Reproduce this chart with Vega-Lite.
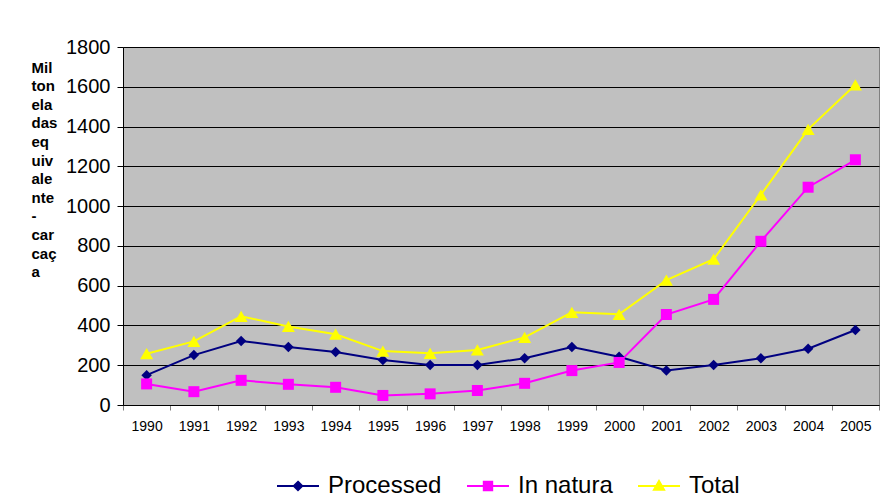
{
  "$schema": "https://vega.github.io/schema/vega-lite/v6.json",
  "width": 756,
  "height": 358,
  "autosize": {"type": "none"},
  "padding": {"left": 123, "top": 47, "right": 2, "bottom": 97},
  "background": "white",
  "config": {
    "font": "Liberation Sans",
    "view": {"fill": "#C0C0C0", "stroke": "#808080", "strokeWidth": 1}
  },
  "data": {
    "values": [
      {"year": "1990", "series": "Processed", "value": 150},
      {"year": "1991", "series": "Processed", "value": 251},
      {"year": "1992", "series": "Processed", "value": 322},
      {"year": "1993", "series": "Processed", "value": 292},
      {"year": "1994", "series": "Processed", "value": 266},
      {"year": "1995", "series": "Processed", "value": 226},
      {"year": "1996", "series": "Processed", "value": 201},
      {"year": "1997", "series": "Processed", "value": 201},
      {"year": "1998", "series": "Processed", "value": 235},
      {"year": "1999", "series": "Processed", "value": 292},
      {"year": "2000", "series": "Processed", "value": 243},
      {"year": "2001", "series": "Processed", "value": 174},
      {"year": "2002", "series": "Processed", "value": 201},
      {"year": "2003", "series": "Processed", "value": 235},
      {"year": "2004", "series": "Processed", "value": 283},
      {"year": "2005", "series": "Processed", "value": 377},
      {"year": "1990", "series": "In natura", "value": 106},
      {"year": "1991", "series": "In natura", "value": 67},
      {"year": "1992", "series": "In natura", "value": 124},
      {"year": "1993", "series": "In natura", "value": 104},
      {"year": "1994", "series": "In natura", "value": 89},
      {"year": "1995", "series": "In natura", "value": 48},
      {"year": "1996", "series": "In natura", "value": 56},
      {"year": "1997", "series": "In natura", "value": 73},
      {"year": "1998", "series": "In natura", "value": 109},
      {"year": "1999", "series": "In natura", "value": 173},
      {"year": "2000", "series": "In natura", "value": 214},
      {"year": "2001", "series": "In natura", "value": 455},
      {"year": "2002", "series": "In natura", "value": 531},
      {"year": "2003", "series": "In natura", "value": 823},
      {"year": "2004", "series": "In natura", "value": 1095},
      {"year": "2005", "series": "In natura", "value": 1233},
      {"year": "1990", "series": "Total", "value": 258},
      {"year": "1991", "series": "Total", "value": 320},
      {"year": "1992", "series": "Total", "value": 446},
      {"year": "1993", "series": "Total", "value": 395},
      {"year": "1994", "series": "Total", "value": 356},
      {"year": "1995", "series": "Total", "value": 271},
      {"year": "1996", "series": "Total", "value": 260},
      {"year": "1997", "series": "Total", "value": 277},
      {"year": "1998", "series": "Total", "value": 340},
      {"year": "1999", "series": "Total", "value": 466},
      {"year": "2000", "series": "Total", "value": 456},
      {"year": "2001", "series": "Total", "value": 628},
      {"year": "2002", "series": "Total", "value": 733},
      {"year": "2003", "series": "Total", "value": 1057},
      {"year": "2004", "series": "Total", "value": 1386},
      {"year": "2005", "series": "Total", "value": 1610}
    ]
  },
  "encoding": {
    "x": {
      "field": "year",
      "type": "ordinal",
      "scale": {"type": "band", "paddingInner": 0, "paddingOuter": 0},
      "axis": {
        "title": null,
        "labelAngle": 0,
        "tickBand": "extent",
        "labelFontSize": 14,
        "labelColor": "black",
        "labelPadding": 9,
        "tickSize": 5,
        "tickColor": "#808080",
        "domainColor": "black",
        "grid": false
      }
    },
    "y": {
      "field": "value",
      "type": "quantitative",
      "scale": {"domain": [0, 1800], "nice": false},
      "axis": {
        "values": [0, 200, 400, 600, 800, 1000, 1200, 1400, 1600, 1800],
        "format": "d",
        "labelFontSize": 20,
        "labelColor": "black",
        "labelPadding": 7,
        "tickSize": 6,
        "tickColor": "black",
        "domainColor": "black",
        "gridColor": "black",
        "gridOpacity": 1,
        "title": ["Mil", "ton", "ela", "das", "eq", "uiv", "ale", "nte", "-", "car", "caç", "a"],
        "titleAngle": 0,
        "titleAlign": "left",
        "titleBaseline": "top",
        "titleX": -92,
        "titleY": 13,
        "titleFontSize": 15,
        "titleFontWeight": "bold",
        "titleLineHeight": 18.6,
        "titleColor": "black"
      }
    }
  },
  "layer": [
    {
      "mark": {"type": "line", "strokeWidth": 2},
      "encoding": {
        "color": {
          "field": "series",
          "type": "nominal",
          "scale": {"domain": ["Processed", "In natura", "Total"], "range": ["#000080", "#FF00FF", "#FFFF00"]},
          "legend": {
            "title": null,
            "orient": "none",
            "direction": "horizontal",
            "legendX": 153,
            "legendY": 417,
            "padding": 0,
            "symbolSize": 1764,
            "symbolStrokeWidth": 2,
            "labelFontSize": 24,
            "labelColor": "black",
            "labelOffset": 8,
            "columnPadding": 21,
            "labelLimit": 300,
            "encode": {
              "symbols": {
                "update": {
                  "shape": {"signal": "datum.value == 'Processed' ? 'M-1,0H1M0,-0.2L0.2,0L0,0.2L-0.2,0Z' : datum.value == 'In natura' ? 'M-1,0H1M-0.2,-0.2H0.2V0.2H-0.2Z' : 'M-1,0H1M0,-0.24L0.24,0.18H-0.24Z'"},
                  "fill": {"scale": "color", "field": "value"},
                  "stroke": {"scale": "color", "field": "value"},
                  "strokeWidth": {"value": 2},
                  "opacity": {"value": 1}
                }
              }
            }
          }
        }
      }
    },
    {
      "transform": [{"filter": "datum.series == 'Processed'"}],
      "mark": {"type": "point", "filled": true, "opacity": 1, "shape": "diamond", "size": 110, "color": "#000080"}
    },
    {
      "transform": [{"filter": "datum.series == 'In natura'"}],
      "mark": {"type": "point", "filled": true, "opacity": 1, "shape": "square", "size": 121, "color": "#FF00FF"}
    },
    {
      "transform": [{"filter": "datum.series == 'Total'"}],
      "mark": {"type": "point", "filled": true, "opacity": 1, "shape": "triangle-up", "size": 170, "color": "#FFFF00"}
    }
  ]
}
